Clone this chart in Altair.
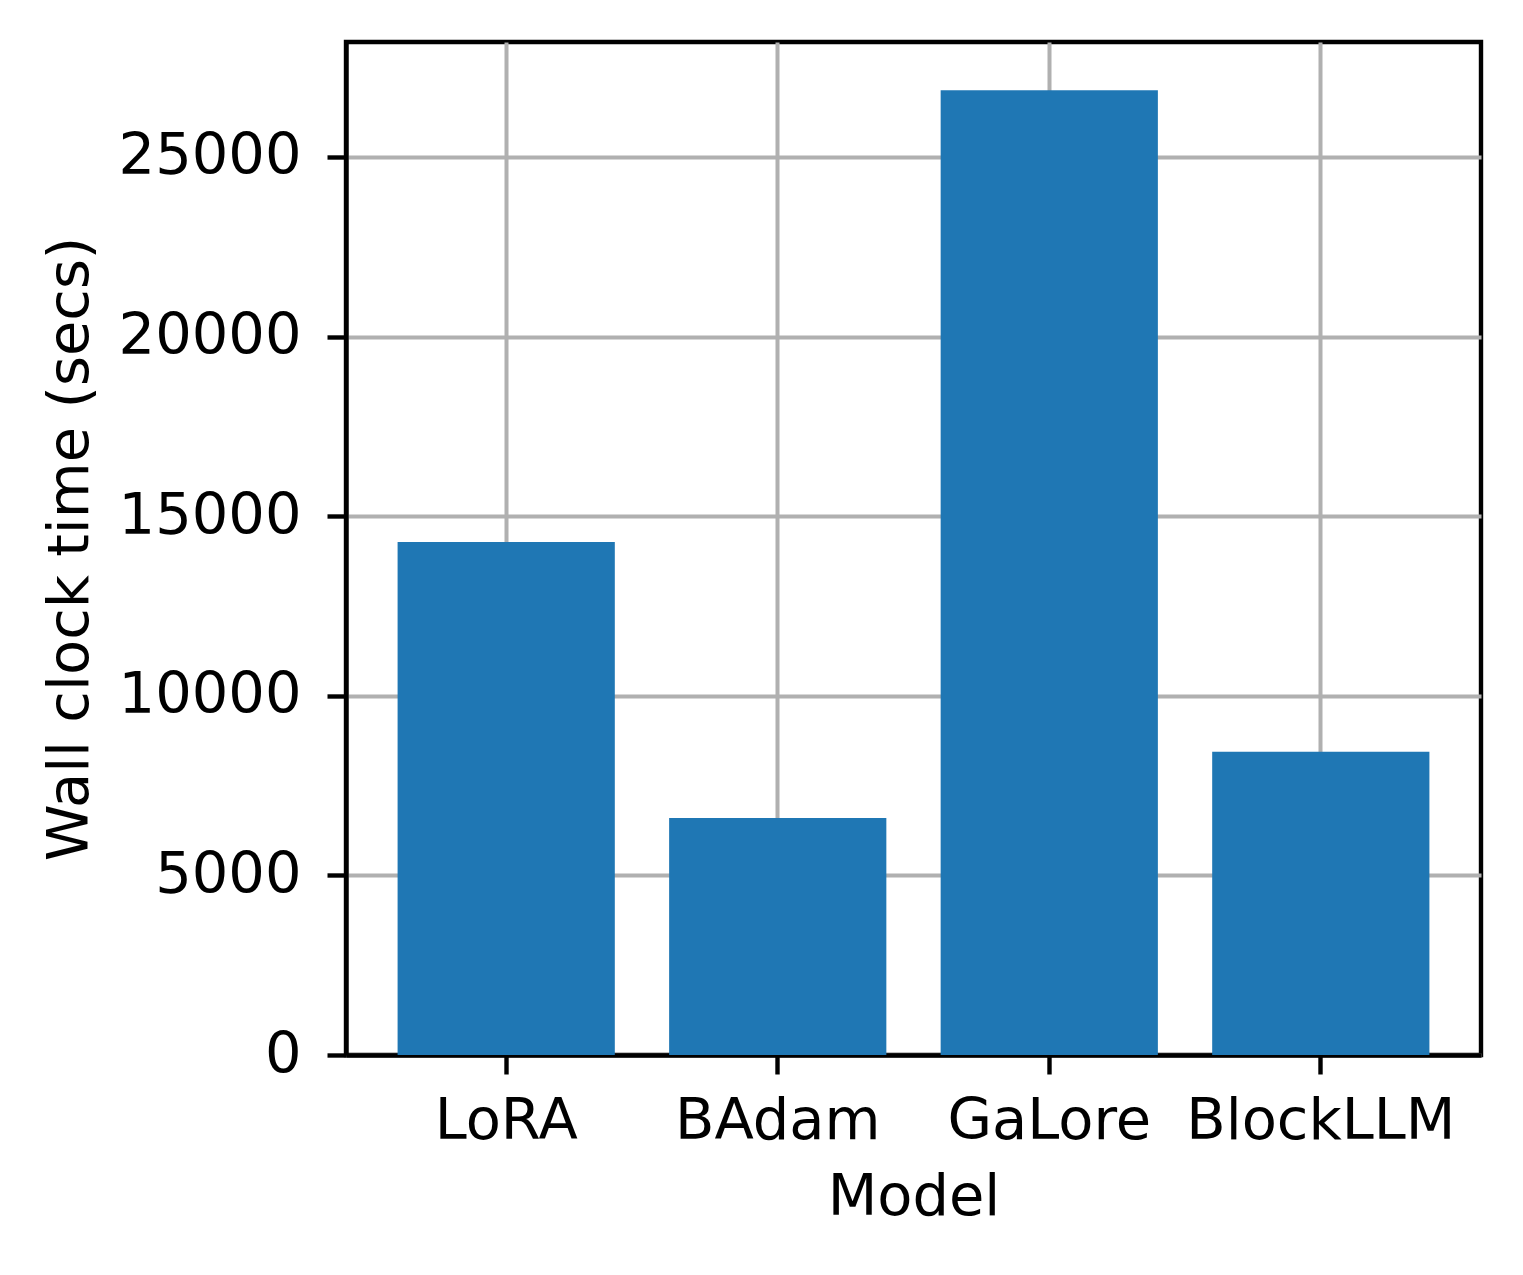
import altair as alt
import pandas as pd

models = ["LoRA", "BAdam", "GaLore", "BlockLLM"]
times = [14280, 6600, 26860, 8440]
y_ticks = [0, 5000, 10000, 15000, 20000, 25000]

df = pd.DataFrame({"Model": models, "Time": times})

FONT = "DejaVu Sans"
FS = 57.5

chart = alt.Chart(df).mark_bar(color="#1f77b4").encode(
    x=alt.X(
        "Model:N",
        sort=models,
        scale=alt.Scale(paddingInner=0.2, paddingOuter=0.19),
        axis=alt.Axis(
            title="Model",
            labelAngle=0,
            grid=True,
            bandPosition=0.5,
            tickBand="center",
            labelPadding=19,
            titlePadding=20,
        ),
    ),
    y=alt.Y(
        "Time:Q",
        scale=alt.Scale(domain=[0, 28200], nice=False, zero=True),
        axis=alt.Axis(
            title="Wall clock time (secs)",
            values=y_ticks,
            format="d",
            labelPadding=26,
            titlePadding=47,
        ),
    ),
).properties(
    width=1135,
    height=1013,
    padding={"left": 33, "top": 34, "right": 10, "bottom": 5},
).configure_view(
    stroke="black",
    strokeWidth=4.4,
).configure_axis(
    zindex=1,
    labelLimit=0,
    gridColor="#b0b0b0",
    gridWidth=4.0,
    gridOpacity=1,
    domainColor="black",
    domainWidth=4.4,
    tickColor="black",
    tickWidth=4.4,
    tickSize=19,
    labelFont=FONT,
    labelFontSize=FS,
    labelColor="black",
    titleFont=FONT,
    titleFontSize=FS,
    titleFontWeight="normal",
    titleColor="black",
).configure_axisY(
    tickCount=6,
)

chart.save("out.html", embed_options={"renderer": "svg", "actions": False})
